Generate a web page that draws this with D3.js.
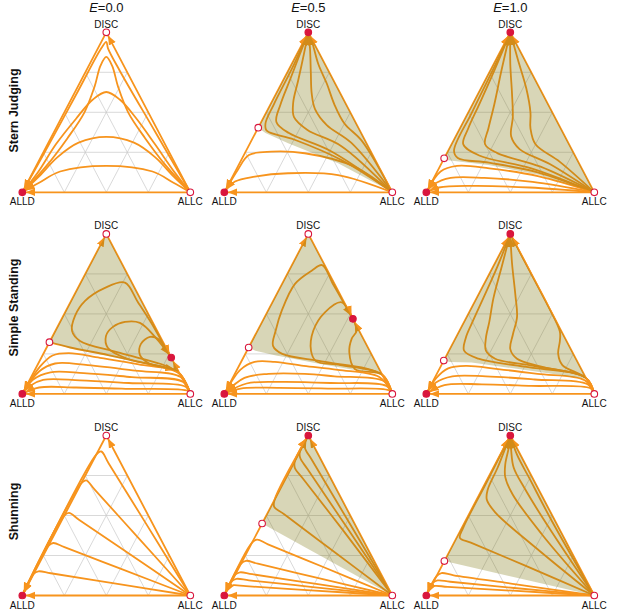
<!DOCTYPE html>
<html><head><meta charset="utf-8">
<script src="https://cdn.jsdelivr.net/npm/d3@7"></script>
<style>
body{margin:0;background:#fff}
svg{display:block}
text{font-family:"Liberation Sans",Arial,sans-serif;fill:#111}
</style></head>
<body><svg id="chart" width="617" height="612"></svg>
<script>
// ---------- labels ----------
const schemes = ["Stern Judging", "Simple Standing", "Shunning"];
const errorRates = ["0.0", "0.5", "1.0"];
const vertexNames = ["ALLD", "ALLC", "DISC"];
const gridLevels = [0.25, 0.5, 0.75];

// ---------- data: points are [ALLC share, DISC share] (ALLD = rest) ----------
// fixed points: [ALLC, DISC, stable(1)/unstable(0)]
// Stern Judging, E=0.0
const trajSJ_E00 = [
  [[1,0],[0,0]], [[1,0],[0,1]], [[0,1],[0,0]],
  [[1,0],[0.6,0.38],[0.2,0.76],[0.06,0.9],[0.03,0.94],[0.02,0.9],[0.015,0.6],[0.008,0.25],[0,0]],
  [[1,0],[0.78,0.16],[0.56,0.34],[0.38,0.5],[0.24,0.66],[0.14,0.79],[0.077,0.846],[0.07,0.79],[0.1,0.66],[0.12,0.5],[0.1,0.34],[0.06,0.16],[0,0]],
  [[1,0],[0.85,0.12],[0.64,0.3],[0.45,0.46],[0.29,0.58],[0.1865,0.627],[0.13,0.58],[0.09,0.46],[0.05,0.3],[0.03,0.12],[0,0]],
  [[1,0],[0.85,0.1],[0.68,0.22],[0.51,0.31],[0.327,0.346],[0.18,0.31],[0.1,0.22],[0.05,0.1],[0,0]],
  [[1,0],[0.87,0.06],[0.71,0.13],[0.4175,0.165],[0.16,0.13],[0.07,0.06],[0,0]]
];
const fixedSJ_E00 = [[0,0,1],[1,0,0],[0,1,0]];
const basinSJ_E00 = [];

// Stern Judging, E=0.5
const trajSJ_E05 = [
  [[1,0],[0,0]], [[1,0],[0,1]], [[0,0.404],[0,1]], [[0,0.404],[0,0]],
  [[1,0],[0.696,0.16],[0.357,0.244],[0.154,0.254],[0.03,0.233],[0.01,0.14],[0,0]],
  [[1,0],[0.623,0.108],[0.32,0.119],[0.133,0.098],[0.03,0.067],[0,0]],
  [[1,0],[0.6,0.2],[0.25,0.33],[0.06,0.385],[0.03,0.43],[0.02,0.55],[0.015,0.8],[0,1]],
  [[1,0],[0.5,0.26],[0.2,0.37],[0.09,0.44],[0.06,0.55],[0.04,0.7],[0.02,0.85],[0,1]],
  [[1,0],[0.55,0.29],[0.3,0.39],[0.18,0.47],[0.13,0.56],[0.09,0.7],[0.04,0.87],[0,1]],
  [[1,0],[0.6,0.31],[0.4,0.42],[0.28,0.52],[0.21,0.62],[0.14,0.75],[0.06,0.9],[0,1]],
  [[1,0],[0.66,0.32],[0.5,0.43],[0.38,0.55],[0.27,0.68],[0.16,0.8],[0.06,0.93],[0,1]]
];
const fixedSJ_E05 = [[0,0,1],[1,0,0],[0,1,1],[0,0.404,0]];
const basinSJ_E05 = [[0,0.404],[0,1],[1,0],[0.587,0.181],[0.227,0.306],[0.06,0.37]];

// Stern Judging, E=1.0
const trajSJ_E10 = [
  [[1,0],[0,0]], [[1,0],[0,1]], [[0,0.2125],[0,1]], [[0,0.2125],[0,0]],
  [[1,0],[0.62,0.1],[0.3,0.15],[0.1,0.165],[0.02,0.13],[0,0]],
  [[1,0],[0.6,0.065],[0.3,0.09],[0.1,0.09],[0.02,0.05],[0,0]],
  [[1,0],[0.6,0.03],[0.25,0.04],[0.06,0.03],[0,0]],
  [[1,0],[0.6,0.125],[0.28,0.185],[0.08,0.215],[0.035,0.26],[0.022,0.5],[0.012,0.8],[0,1]],
  [[1,0],[0.55,0.15],[0.2,0.23],[0.07,0.3],[0.05,0.4],[0.04,0.55],[0.025,0.75],[0,1]],
  [[1,0],[0.6,0.16],[0.3,0.245],[0.2,0.3],[0.17,0.4],[0.13,0.55],[0.07,0.75],[0,1]],
  [[1,0],[0.65,0.175],[0.42,0.27],[0.33,0.35],[0.28,0.47],[0.2,0.62],[0.1,0.8],[0,1]],
  [[1,0],[0.7,0.19],[0.5,0.3],[0.42,0.4],[0.37,0.5],[0.27,0.65],[0.13,0.83],[0,1]]
];
const fixedSJ_E10 = [[0,0,1],[1,0,0],[0,1,1],[0,0.2125,0]];
const basinSJ_E10 = [[0,0.2125],[0,1],[1,0],[0.612,0.11],[0.284,0.171],[0.03,0.2]];

// Simple Standing, E=0.0
const trajSS_E00 = [
  [[1,0],[0,0]], [[0,0.323],[0,1]], [[0,0.323],[0,0]], [[0,1],[0.773,0.227]], [[1,0],[0.773,0.227]],
  [[0,0.323],[0.14,0.29],[0.39,0.243],[0.715,0.176],[0.855,0.145]],
  [[1,0],[0.86,0.135],[0.454,0.256],[0.178,0.331],[0.099,0.394],[0.07,0.4875],[0.083,0.581],[0.161,0.6625],[0.263,0.6956],[0.4,0.575],[0.55,0.44],[0.68,0.315],[0.773,0.227]],
  [[1,0],[0.86,0.135],[0.53,0.215],[0.366,0.2875],[0.317,0.3625],[0.33,0.419],[0.386,0.45],[0.478,0.444],[0.62,0.35],[0.773,0.227]],
  [[1,0],[0.86,0.135],[0.66,0.19],[0.578,0.244],[0.55,0.3125],[0.582,0.356],[0.635,0.344],[0.773,0.227]],
  [[1,0],[0.865,0.13],[0.6,0.185],[0.35,0.225],[0.15,0.255],[0.06,0.24],[0.02,0.17],[0,0]],
  [[1,0],[0.89,0.105],[0.6,0.145],[0.3,0.18],[0.1,0.19],[0.03,0.14],[0,0]],
  [[1,0],[0.92,0.075],[0.6,0.105],[0.3,0.13],[0.1,0.135],[0.02,0.09],[0,0]],
  [[1,0],[0.95,0.045],[0.6,0.068],[0.3,0.085],[0.08,0.088],[0.02,0.05],[0,0]],
  [[1,0],[0.98,0.018],[0.6,0.032],[0.3,0.04],[0.08,0.04],[0,0]]
];
const fixedSS_E00 = [[0,0,1],[1,0,0],[0,1,0],[0,0.323,0],[0.773,0.227,1]];
const basinSS_E00 = [[0,0.323],[0,1],[0.86,0.14],[0.715,0.17],[0.39,0.2375],[0.14,0.285]];

// Simple Standing, E=0.5
const trajSS_E05 = [
  [[1,0],[0,0]], [[0,0.29],[0,1]], [[0,0.29],[0,0]], [[0,1],[0.531,0.469]], [[1,0],[0.531,0.469]],
  [[1,0],[0.88,0.12],[0.5,0.2],[0.22,0.25],[0.14,0.3],[0.108,0.396],[0.082,0.52],[0.077,0.6875],[0.135,0.77],[0.18,0.805],[0.3,0.69],[0.42,0.575],[0.531,0.469]],
  [[1,0],[0.88,0.12],[0.6,0.18],[0.443,0.205],[0.381,0.27],[0.332,0.396],[0.344,0.51],[0.413,0.5725],[0.531,0.469]],
  [[1,0],[0.88,0.12],[0.7,0.155],[0.614,0.26],[0.586,0.344],[0.59,0.396],[0.531,0.469]],
  [[1,0],[0.87,0.105],[0.6,0.15],[0.385,0.175],[0.2,0.2],[0.08,0.2],[0.02,0.15],[0,0]],
  [[1,0],[0.91,0.08],[0.6,0.11],[0.417,0.125],[0.2,0.125],[0.07,0.1],[0,0]],
  [[1,0],[0.94,0.05],[0.6,0.068],[0.3,0.075],[0.1,0.065],[0,0]],
  [[1,0],[0.97,0.022],[0.6,0.033],[0.3,0.038],[0.08,0.033],[0,0]]
];
const fixedSS_E05 = [[0,0,1],[1,0,0],[0,1,0],[0,0.29,0],[0.531,0.469,1]];
const basinSS_E05 = [[0,0.29],[0,1],[0.88,0.12],[0.4875,0.185],[0.181,0.241],[0.05,0.27]];

// Simple Standing, E=1.0
const trajSS_E10 = [
  [[1,0],[0,0]], [[1,0],[0,1]], [[0,0.208],[0,1]], [[0,0.208],[0,0]],
  [[1,0],[0.9,0.1],[0.5,0.17],[0.2,0.22],[0.09,0.27],[0.06,0.35],[0.05,0.45],[0.04,0.6],[0.025,0.8],[0,1]],
  [[1,0],[0.9,0.1],[0.55,0.175],[0.3,0.22],[0.22,0.27],[0.18,0.35],[0.15,0.45],[0.1,0.6],[0.05,0.8],[0,1]],
  [[1,0],[0.9,0.1],[0.6,0.17],[0.43,0.22],[0.36,0.28],[0.33,0.37],[0.3,0.48],[0.22,0.62],[0.1,0.82],[0,1]],
  [[1,0],[0.9,0.1],[0.72,0.18],[0.66,0.25],[0.63,0.33],[0.6,0.39],[0.45,0.55],[0.25,0.75],[0,1]],
  [[1,0],[0.9,0.085],[0.6,0.125],[0.35,0.155],[0.15,0.175],[0.05,0.16],[0.01,0.1],[0,0]],
  [[1,0],[0.93,0.06],[0.6,0.09],[0.3,0.11],[0.1,0.11],[0.02,0.07],[0,0]],
  [[1,0],[0.96,0.035],[0.6,0.05],[0.3,0.06],[0.08,0.055],[0,0]]
];
const fixedSS_E10 = [[0,0,1],[1,0,0],[0,1,1],[0,0.208,0]];
const basinSS_E10 = [[0,0.208],[0,1],[0.906,0.094],[0.385,0.167],[0.172,0.196],[0.04,0.2]];

// Shunning, E=0.0
const trajSH_E00 = [
  [[1,0],[0,0]], [[1,0],[0,1]], [[0,1],[0,0]],
  [[1,0],[0.5,0.077],[0.1,0.139],[0.02,0.151],[0,0.135],[0,0]],
  [[1,0],[0.5,0.168],[0.1,0.302],[0.02,0.328],[0,0.31],[0,0]],
  [[1,0],[0.5,0.264],[0.1,0.474],[0.02,0.516],[0,0.5],[0,0]],
  [[1,0],[0.5,0.368],[0.1,0.662],[0.02,0.72],[0,0.7],[0,0]],
  [[1,0],[0.5,0.46],[0.1,0.827],[0.02,0.9],[0,0.88],[0,0]]
];
const fixedSH_E00 = [[0,0,1],[1,0,0],[0,1,0]];
const basinSH_E00 = [];

// Shunning, E=0.5
const trajSH_E05 = [
  [[1,0],[0,0]], [[1,0],[0,1]], [[0,0.45],[0,1]], [[0,0.45],[0,0]],
  [[1,0],[0.5,0.283],[0.1,0.509],[0.02,0.554],[0,0.6],[0,1]],
  [[1,0],[0.5,0.41],[0.1,0.733],[0.02,0.799],[0,0.84],[0,1]],
  [[1,0],[0.5,0.44],[0.1,0.79],[0.02,0.862],[0,0.9],[0,1]],
  [[1,0],[0.5,0.47],[0.1,0.845],[0.02,0.921],[0,0.96],[0,1]],
  [[1,0],[0.5,0.178],[0.1,0.32],[0.02,0.349],[0,0.33],[0,0]],
  [[1,0],[0.5,0.11],[0.1,0.199],[0.02,0.217],[0,0.2],[0,0]],
  [[1,0],[0.5,0.074],[0.1,0.133],[0.02,0.145],[0,0.13],[0,0]],
  [[1,0],[0.5,0.053],[0.1,0.095],[0.02,0.104],[0,0.09],[0,0]],
  [[1,0],[0.5,0.0325],[0.1,0.0585],[0.02,0.064],[0,0.055],[0,0]]
];
const fixedSH_E05 = [[0,0,1],[1,0,0],[0,1,1],[0,0.45,0]];
const basinSH_E05 = [[0,0.45],[0,1],[1,0]];

// Shunning, E=1.0
const trajSH_E10 = [
  [[1,0],[0,0]], [[1,0],[0,1]], [[0,0.215],[0,1]], [[0,0.215],[0,0]],
  [[1,0],[0.5,0.185],[0.1,0.33],[0.02,0.36],[0.008,0.42],[0.005,0.7],[0,1]],
  [[1,0],[0.5,0.3],[0.15,0.52],[0.06,0.6],[0.035,0.66],[0.025,0.8],[0.01,0.92],[0,1]],
  [[1,0],[0.5,0.38],[0.2,0.63],[0.1,0.74],[0.06,0.82],[0.03,0.92],[0,1]],
  [[1,0],[0.5,0.44],[0.25,0.67],[0.12,0.8],[0.05,0.91],[0,1]],
  [[1,0],[0.5,0.48],[0.25,0.73],[0.1,0.88],[0,1]],
  [[1,0],[0.5,0.07],[0.1,0.126],[0.02,0.14],[0,0.12],[0,0]],
  [[1,0],[0.5,0.047],[0.1,0.086],[0.02,0.094],[0,0.08],[0,0]],
  [[1,0],[0.5,0.03],[0.1,0.054],[0.02,0.06],[0,0.05],[0,0]]
];
const fixedSH_E10 = [[0,0,1],[1,0,0],[0,1,1],[0,0.215,0]];
const basinSH_E10 = [[0,0.215],[0,1],[1,0]];

// ---------- assemble ----------
const panelTraj  = [[trajSJ_E00, trajSJ_E05, trajSJ_E10],[trajSS_E00, trajSS_E05, trajSS_E10],[trajSH_E00, trajSH_E05, trajSH_E10]];
const panelFixed = [[fixedSJ_E00, fixedSJ_E05, fixedSJ_E10],[fixedSS_E00, fixedSS_E05, fixedSS_E10],[fixedSH_E00, fixedSH_E05, fixedSH_E10]];
const panelBasin = [[basinSJ_E00, basinSJ_E05, basinSJ_E10],[basinSS_E00, basinSS_E05, basinSS_E10],[basinSH_E00, basinSH_E05, basinSH_E10]];

// ---------- drawing ----------
const ORANGE = "#f7941d", RED = "#d9163d";
const W = 168, H = 160;
const svg = d3.select("#chart");
const colLeft = d3.scaleLinear().domain([0, 2]).range([22.3, 426.3]);
const rowTop  = d3.scaleLinear().domain([0, 2]).range([32.3, 435.5]);

svg.append("defs").append("marker")
  .attr("id", "arrow").attr("viewBox", "0 -5 14 10")
  .attr("refX", 13).attr("refY", 0)
  .attr("markerWidth", 14).attr("markerHeight", 10)
  .attr("markerUnits", "userSpaceOnUse").attr("orient", "auto")
  .append("path").attr("d", "M0,-3.8L9.5,0L0,3.8Z").attr("fill", ORANGE);

for (let r = 0; r < 3; r++) {
  for (let c = 0; c < 3; c++) {
    const L = colLeft(c), T = rowTop(r);
    const x = d3.scaleLinear().domain([0, 1]).range([L, L + W]);
    const y = d3.scaleLinear().domain([0, 1]).range([T + H, T]);
    const px = p => x(p[0] + p[1] / 2), py = p => y(p[1]);
    const g = svg.append("g");

    // grid
    const gridSegs = [];
    gridLevels.forEach(t => {
      gridSegs.push([[0, t], [1 - t, t]]);
      gridSegs.push([[t, 0], [t, 1 - t]]);
      gridSegs.push([[1 - t, 0], [0, 1 - t]]);
    });
    g.selectAll("line.grid").data(gridSegs).join("line")
      .attr("class", "grid")
      .attr("x1", s => px(s[0])).attr("y1", s => py(s[0]))
      .attr("x2", s => px(s[1])).attr("y2", s => py(s[1]))
      .attr("stroke", "#c8c8c8").attr("stroke-width", 0.7);

    // trajectories
    const line = d3.line().x(px).y(py).curve(d3.curveCatmullRom.alpha(0.5));
    g.selectAll("path.traj").data(panelTraj[r][c]).join("path")
      .attr("class", "traj")
      .attr("d", line)
      .attr("fill", "none").attr("stroke", ORANGE)
      .attr("stroke-width", 1.8).attr("stroke-linejoin", "round").attr("stroke-linecap", "round")
      .attr("marker-end", "url(#arrow)");

    // basin of attraction of cooperation (translucent overlay)
    const basin = panelBasin[r][c];
    if (basin.length) {
      g.append("path")
        .attr("d", d3.line().x(px).y(py).curve(d3.curveLinearClosed)(basin))
        .attr("fill", "rgb(125,120,15)").attr("fill-opacity", 0.3);
    }

    // fixed points
    g.selectAll("circle.fp").data(panelFixed[r][c]).join("circle")
      .attr("class", "fp")
      .attr("cx", px).attr("cy", py).attr("r", 3.3)
      .attr("fill", d => d[2] ? RED : "#fff")
      .attr("stroke", RED).attr("stroke-width", 1.1);

    // vertex labels
    g.append("text").attr("x", px([0, 0])).attr("y", py([0, 0]) + 13)
      .attr("text-anchor", "middle").attr("font-size", 10).text(vertexNames[0]);
    g.append("text").attr("x", px([1, 0])).attr("y", py([1, 0]) + 13)
      .attr("text-anchor", "middle").attr("font-size", 10).text(vertexNames[1]);
    g.append("text").attr("x", px([0, 1])).attr("y", py([0, 1]) - 4.5)
      .attr("text-anchor", "middle").attr("font-size", 10).text(vertexNames[2]);

    if (r === 0) {
      const t = svg.append("text").attr("x", px([0, 1])).attr("y", 12)
        .attr("text-anchor", "middle").attr("font-size", 13);
      t.append("tspan").attr("font-style", "italic").text("E");
      t.append("tspan").text("=" + errorRates[c]);
    }
  }
}

// row labels
const rowCenters = [110.5, 307.5, 511.5];
schemes.forEach((s, i) => {
  svg.append("text")
    .attr("transform", `translate(17.5,${rowCenters[i]}) rotate(-90)`)
    .attr("text-anchor", "middle").attr("font-size", 12.5).attr("font-weight", "bold")
    .text(s);
});
</script>
</body></html>
